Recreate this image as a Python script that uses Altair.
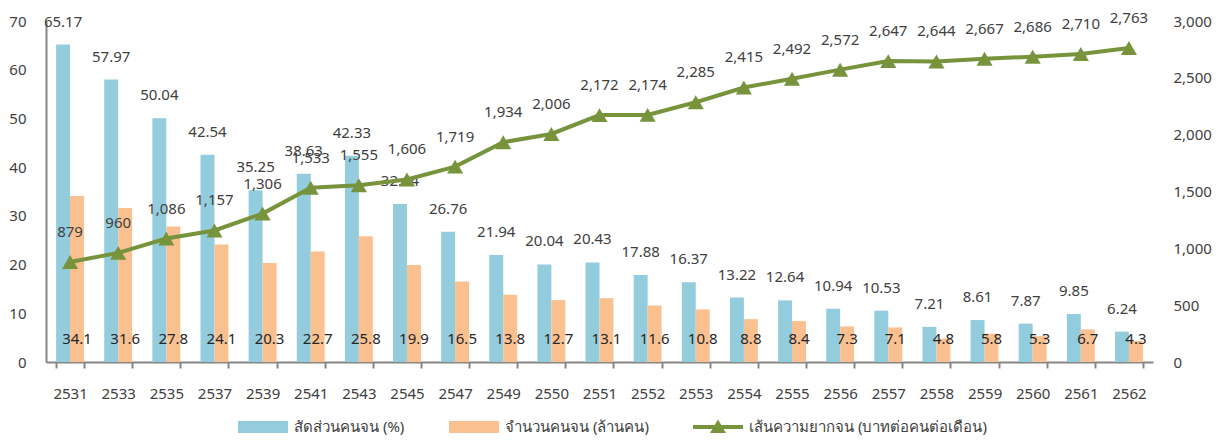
import altair as alt
import pandas as pd

years = [2531, 2533, 2535, 2537, 2539, 2541, 2543, 2545, 2547, 2549, 2550, 2551,
         2552, 2553, 2554, 2555, 2556, 2557, 2558, 2559, 2560, 2561, 2562]
ratio = [65.17, 57.97, 50.04, 42.54, 35.25, 38.63, 42.33, 32.44, 26.76, 21.94, 20.04, 20.43,
         17.88, 16.37, 13.22, 12.64, 10.94, 10.53, 7.21, 8.61, 7.87, 9.85, 6.24]
count = [34.1, 31.6, 27.8, 24.1, 20.3, 22.7, 25.8, 19.9, 16.5, 13.8, 12.7, 13.1,
         11.6, 10.8, 8.8, 8.4, 7.3, 7.1, 4.8, 5.8, 5.3, 6.7, 4.3]
poverty_line = [879, 960, 1086, 1157, 1306, 1533, 1555, 1606, 1719, 1934, 2006, 2172,
                2174, 2285, 2415, 2492, 2572, 2647, 2644, 2667, 2686, 2710, 2763]

S_RATIO = "สัดส่วนคนจน (%)"
S_COUNT = "จำนวนคนจน (ล้านคน)"
S_LINE = "เส้นความยากจน (บาทต่อคนต่อเดือน)"
SERIES = [S_RATIO, S_COUNT, S_LINE]
COLORS = ["#93CDDD", "#FAC090", "#77933C"]

FONT = "Noto Sans"
TXT = "#404040"
AXC = "#868686"
FS = 15
W, H = 1107, 341

year_str = [str(y) for y in years]
wide = pd.DataFrame({"year": year_str, "line": poverty_line})
wide["line_label"] = [f"{v:,}" for v in poverty_line]

bars_df = pd.concat([
    pd.DataFrame({"year": year_str, "series": S_RATIO, "value": ratio,
                  "label": [f"{v:.2f}" for v in ratio]}),
    pd.DataFrame({"year": year_str, "series": S_COUNT, "value": count,
                  "label": [f"{v:.1f}" for v in count]}),
], ignore_index=True)

x_enc = alt.X("year:N", sort=year_str,
              scale=alt.Scale(paddingInner=0.42, paddingOuter=0.21),
              axis=alt.Axis(title=None, labelAngle=0, tickBand="extent",
                            labelPadding=18, labelFontSize=FS, labelColor=TXT,
                            labelFont=FONT, domainColor=AXC, domainWidth=2,
                            tickColor=AXC, tickWidth=2, tickSize=6, grid=False))
xoff = alt.XOffset("series:N", scale=alt.Scale(domain=[S_RATIO, S_COUNT],
                                               paddingInner=0, paddingOuter=0))
y_left = alt.Y("value:Q", scale=alt.Scale(domain=[0, 70]),
               axis=alt.Axis(title=None, values=list(range(0, 80, 10)), ticks=False,
                             grid=False, domainColor=AXC, domainWidth=2,
                             labelPadding=20, labelFontSize=FS, labelColor=TXT,
                             labelFont=FONT))

bars = alt.Chart(bars_df).mark_bar().encode(
    x=x_enc, xOffset=xoff, y=y_left,
    color=alt.Color("series:N", scale=alt.Scale(domain=[S_RATIO, S_COUNT],
                                                range=COLORS[:2]), legend=None),
)
ratio_labels = alt.Chart(bars_df).transform_filter(
    alt.datum.series == S_RATIO
).mark_text(dy=-23, fontSize=FS, font=FONT, color=TXT, baseline="middle").encode(
    x=x_enc, xOffset=xoff, y=y_left, text="label:N")
count_labels = alt.Chart(bars_df).transform_filter(
    alt.datum.series == S_COUNT
).mark_text(dy=-23, fontSize=FS, font=FONT, color="#262626", baseline="middle").encode(
    x=x_enc, xOffset=xoff, y=alt.YDatum(0), text="label:N")

legend_df = pd.DataFrame({"series": SERIES})
leg = alt.Legend(orient="none", legendX=207, legendY=396, direction="horizontal",
                 title=None, symbolSize=400, symbolStrokeWidth=0, symbolOpacity=1,
                 labelFontSize=15, labelFont=FONT, labelColor=TXT, labelOffset=21,
                 labelLimit=500, columnPadding=44)
legend_layer = alt.Chart(legend_df).mark_point(filled=True, opacity=0).encode(
    x=alt.value(0), y=alt.value(H),
    fill=alt.Fill("series:N", scale=alt.Scale(domain=SERIES, range=COLORS), legend=leg),
    shape=alt.Shape("series:N", scale=alt.Scale(domain=SERIES, range=[
        "M-2.5,-0.6H2.5V0.6H-2.5Z",
        "M-2.5,-0.6H2.5V0.6H-2.5Z",
        "M-2.5,-0.2H2.5V0.2H-2.5Z M-0.8,0.6L0,-0.75L0.8,0.6Z",
    ]), legend=leg),
)

left = alt.layer(bars, ratio_labels, count_labels, legend_layer)

y_right = alt.Y("line:Q", scale=alt.Scale(domain=[0, 3000]),
                axis=alt.Axis(orient="right", title=None, values=list(range(0, 3500, 500)),
                              format=",.0f", ticks=False, domain=False, grid=False,
                              labelPadding=20, labelFontSize=FS, labelColor=TXT,
                              labelFont=FONT))
base = alt.Chart(wide).encode(x=x_enc, y=y_right)
line = base.mark_line(color=COLORS[2], strokeWidth=4)
pts = base.mark_point(shape="triangle-up", filled=True, color=COLORS[2], size=260, opacity=1)
line_labels = base.mark_text(dy=-30, fontSize=FS, font=FONT, color=TXT).encode(
    text="line_label:N")
right = alt.layer(line, pts, line_labels)

chart = alt.layer(left, right).resolve_scale(y="independent").properties(
    width=W, height=H, padding={"left": 0, "top": 2, "right": 0, "bottom": 0}
).configure_view(stroke=None)

chart.save("out.html", embed_options={"renderer": "svg", "actions": False})
